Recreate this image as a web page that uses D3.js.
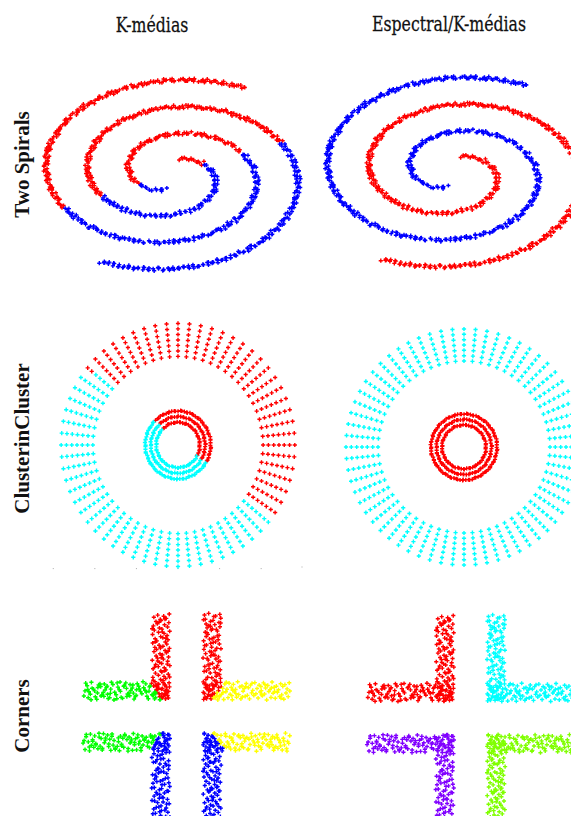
<!DOCTYPE html>
<html>
<head>
<meta charset="utf-8">
<script src="https://cdn.jsdelivr.net/npm/d3@7.9.0/dist/d3.min.js"></script>
<style>
  body { margin: 0; background: #fff; }
  svg { display: block; }
  text { fill: #111; }
</style>
</head>
<body>
<svg id="chart" width="571" height="816"></svg>
<script>
// headings
const columnTitles = ['K-médias', 'Espectral/K-médias'];
const rowTitles = ['Two Spirals', 'ClusterinCluster', 'Corners'];

// two spirals (data units): arm parameter range, points per arm, jitter
const spiralRange = [1.8, 11.5];
const spiralCounts = [500, 500];
const spiralJitter = [0.2, 0.2];
const spiralKmeansCentroids = [[-1.7, 3.6], [1.7, -3.6]];
const spiralKmeansColors = ['#ff0000', '#0000ff'];
const spiralSpectralColors = ['#ff0000', '#0000ff']; // arm A, arm B

// cluster in cluster: three inner rings, outer ring of rays
const ringRadii = [2.2, 2.75, 3.3];
const ringCounts = [70, 85, 100];
const rayCount = 64;
const rayRadii = [8.6, 9.13, 9.67, 10.2, 10.73, 11.27, 11.8];
const cicKmeansCentroids = [[2.66, 3.49], [-2.19, -2.87]];
const cicKmeansColors = ['#ff0000', '#00ffff'];
const cicSpectralColors = ['#ff0000', '#00ffff']; // inner rings, outer rays
const cicTicksLeft = [-12.6, -8.4, -4.2, 0, 4.2, 8.4];
const cicTicksRight = [-16.2];

// corners: four L shapes around the origin
const cornerSigns = [[-1, 1], [1, 1], [-1, -1], [1, -1]];
const cornerShape = [1.9, 10, 2.1]; // gap, arm length, arm width
const cornerArmCounts = [100, 100]; // vertical arm, horizontal arm
const cornerKmeansCentroids = [[0, 5.5], [-7, 0], [7, 0], [0, -5.5]];
const cornerKmeansColors = ['#ff0000', '#00ff00', '#ffff00', '#0000ff'];
const cornerSpectralColors = ['#ff0000', '#00ffff', '#8000ff', '#80ff00'];

// deterministic low discrepancy sequence for the scatter
function halton(i, b) {
  let f = 1, r = 0;
  while (i > 0) { f /= b; r += f * (i % b); i = Math.floor(i / b); }
  return r;
}

function nearest(p, centroids) {
  let best = 0, bd = Infinity;
  centroids.forEach((c, k) => {
    let d = (p.x - c[0]) ** 2 + (p.y - c[1]) ** 2;
    if (d < bd) { bd = d; best = k; }
  });
  return best;
}

// ---- build datasets ----
let spirals = [];
[0, 1].forEach(a => {
  let sign = a === 0 ? -1 : 1;
  let [s0, s1] = spiralRange;
  for (let i = 1; i <= spiralCounts[a]; i++) {
    let s = Math.sqrt(s0 * s0 + (s1 * s1 - s0 * s0) * halton(i + a * 613, 2));
    let jx = (halton(i + a * 613, 3) - 0.5) * 2 * spiralJitter[a];
    let jy = (halton(i + a * 613, 5) - 0.5) * 2 * spiralJitter[a];
    spirals.push({ x: sign * s * Math.cos(s) + jx, y: -sign * s * Math.sin(s) + jy, group: a });
  }
});

let cic = [];
ringRadii.forEach((r, k) => {
  let n = ringCounts[k];
  for (let i = 0; i < n; i++) {
    let t = 2 * Math.PI * (i + 0.8 * (halton(i + 1 + k * 97, 3) - 0.5)) / n;
    let rr = r + (halton(i + 1 + k * 97, 5) - 0.5) * 0.1;
    cic.push({ x: rr * Math.cos(t), y: rr * Math.sin(t), group: 0 });
  }
});
for (let j = 0; j < rayCount; j++) {
  let t = 2 * Math.PI * j / rayCount;
  rayRadii.forEach(r => cic.push({ x: r * Math.cos(t), y: r * Math.sin(t), group: 1 }));
}

let corners = [];
let [gap, armLen, armW] = cornerShape;
cornerSigns.forEach(([sx, sy], q) => {
  for (let i = 1; i <= cornerArmCounts[0]; i++) {
    let idx = i + q * 211;
    corners.push({ x: sx * (gap + armW * halton(idx, 2)), y: sy * (gap + armLen * halton(idx, 3)), group: q });
  }
  for (let i = 1; i <= cornerArmCounts[1]; i++) {
    let idx = i + q * 211 + 1000;
    corners.push({ x: sx * (gap + armLen * halton(idx, 3)), y: sy * (gap + armW * halton(idx, 2)), group: q });
  }
});

// ---- layout ----
const svg = d3.select('#chart');

const panels = [
  { data: spirals, center: [172, 174.5], unit: [13.3, 8.57], color: p => spiralKmeansColors[nearest(p, spiralKmeansCentroids)] },
  { data: spirals, center: [453.5, 172], unit: [13.3, 8.57], color: p => spiralSpectralColors[p.group] },
  { data: cic, center: [178, 445], unit: [9.9, 10.3], color: p => cicKmeansColors[nearest(p, cicKmeansCentroids)], ticks: cicTicksLeft },
  { data: cic, center: [464, 447], unit: [10, 10], color: p => cicSpectralColors[p.group], ticks: cicTicksRight },
  { data: corners, center: [186.5, 716.5], unit: [8.7, 8.7], color: p => cornerKmeansColors[nearest(p, cornerKmeansCentroids)] },
  { data: corners, center: [470.5, 718], unit: [8.7, 8.7], color: p => cornerSpectralColors[p.group] }
];

panels.forEach(panel => {
  let [cx, cy] = panel.center;
  let [ux, uy] = panel.unit;
  let x = d3.scaleLinear().domain([-1, 1]).range([cx - ux, cx + ux]);
  let y = d3.scaleLinear().domain([-1, 1]).range([cy + uy, cy - uy]);

  // faint tick specks under the cluster plots
  if (panel.ticks) {
    svg.append('g').selectAll('rect').data(panel.ticks).join('rect')
      .attr('x', d => x(d) - 0.5).attr('y', y(-12) - 0.5)
      .attr('width', 1).attr('height', 1).attr('fill', '#aaa');
  }

  // one path per colour, each point a small '+'
  let byColor = d3.group(panel.data, panel.color);
  let h = 2.1;
  byColor.forEach((pts, col) => {
    let d = pts.map(p => {
      let px = x(p.x), py = y(p.y);
      return `M${(px - h).toFixed(2)},${py.toFixed(2)}h${2 * h}M${px.toFixed(2)},${(py - h).toFixed(2)}v${2 * h}`;
    }).join('');
    svg.append('path').attr('d', d).attr('stroke', col).attr('stroke-width', 1.4).attr('fill', 'none');
  });
});

// column titles (narrowed serif, like the original figure)
const titlePos = [[152, 32], [449, 31]];
columnTitles.forEach((t, i) => {
  svg.append('text')
    .attr('transform', `translate(${titlePos[i][0]},${titlePos[i][1]}) scale(0.75,1)`)
    .attr('text-anchor', 'middle')
    .attr('font-family', '"DejaVu Serif", serif')
    .attr('font-size', 21)
    .attr('stroke', '#111').attr('stroke-width', 0.25)
    .text(t);
});

// row titles, rotated
const rowPos = [[29, 164.5], [29, 438.5], [29, 716]];
rowTitles.forEach((t, i) => {
  svg.append('text')
    .attr('transform', `translate(${rowPos[i][0]},${rowPos[i][1]}) rotate(-90)`)
    .attr('text-anchor', 'middle')
    .attr('font-family', '"Liberation Serif", serif')
    .attr('font-size', 21)
    .attr('font-weight', 'bold')
    .text(t);
});
</script>
</body>
</html>
